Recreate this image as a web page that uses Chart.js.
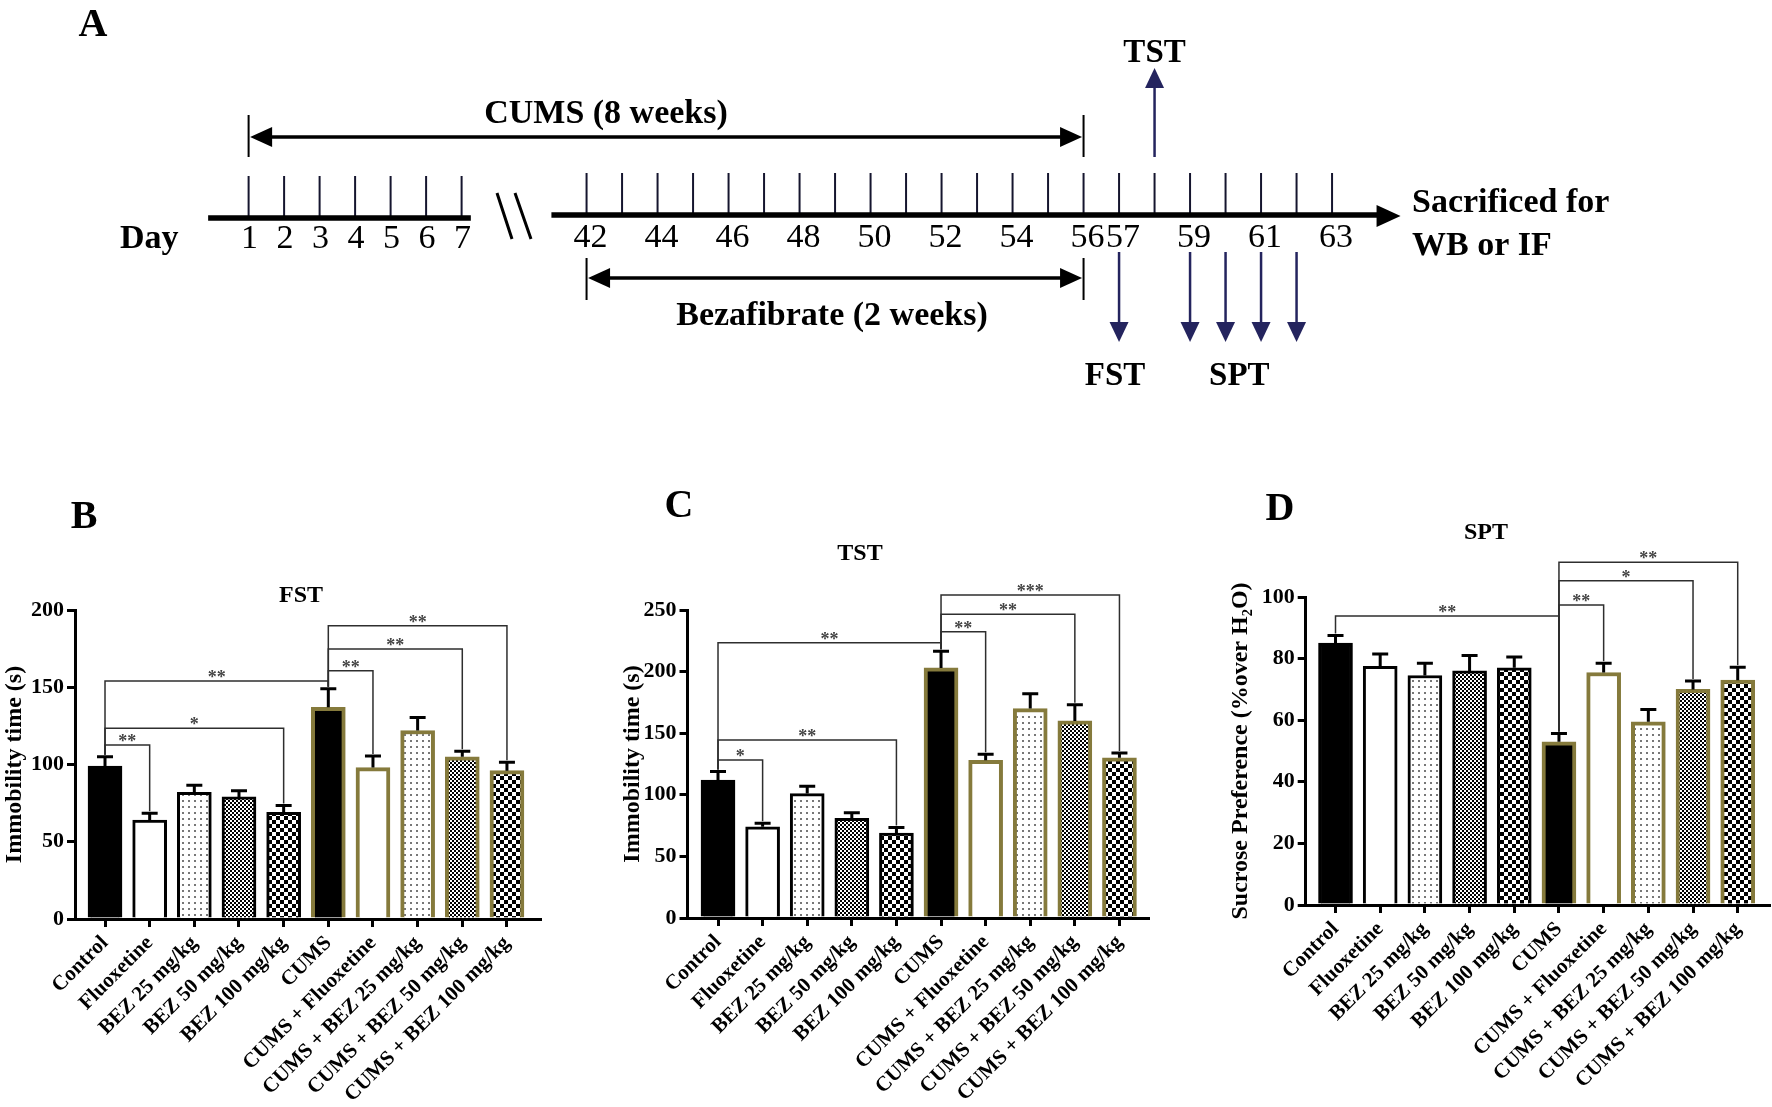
<!DOCTYPE html>
<html>
<head>
<meta charset="utf-8">
<script src="https://cdn.jsdelivr.net/npm/chart.js@4.4.1/dist/chart.umd.min.js"></script>
<style>
html, body { margin: 0; padding: 0; background: #fff; }
#wrap { position: relative; width: 1772px; height: 1107px; overflow: hidden; background: #fff; }
canvas { position: absolute; }
</style>
</head>
<body>
<div id="wrap">
  <canvas id="timeline" width="1772" height="420" style="left:0;top:0"></canvas>
  <canvas id="fst" width="600" height="687" style="left:0;top:420px"></canvas>
  <canvas id="tst" width="600" height="687" style="left:600px;top:420px"></canvas>
  <canvas id="spt" width="572" height="687" style="left:1200px;top:420px"></canvas>
</div>
<script>
// ---- data ----
const groups = ['Control', 'Fluoxetine', 'BEZ 25 mg/kg', 'BEZ 50 mg/kg', 'BEZ 100 mg/kg',
  'CUMS', 'CUMS + Fluoxetine', 'CUMS + BEZ 25 mg/kg', 'CUMS + BEZ 50 mg/kg', 'CUMS + BEZ 100 mg/kg'];

const fstMean = [99, 64, 82, 79, 69, 137, 98, 122, 105, 96];
const fstSem = [6, 4.5, 4.5, 4, 4.5, 12, 7.5, 8.5, 3.5, 5.5];
const tstMean = [112, 74, 101, 81, 69, 203, 128, 170, 160, 130];
const tstSem = [7, 3, 6, 4.5, 4.5, 13.5, 5, 12, 13, 4];
const sptMean = [85, 77.5, 74.5, 76, 77, 53, 75.5, 59.5, 70, 73];
const sptSem = [2.5, 4, 4, 5, 3.5, 2.7, 3, 4, 2.7, 4.2];

// significance brackets: [from bar, to bar, bracket level (axis units), stars]
const fstSig = [[0, 1, 112.6, '**'], [0, 4, 123.4, '*'], [0, 5, 154, '**'],
  [5, 6, 160.7, '**'], [5, 8, 174.8, '**'], [5, 9, 189.8, '**']];
const tstSig = [[0, 1, 128.2, '*'], [0, 4, 144.5, '**'], [0, 5, 223.5, '**'],
  [5, 6, 232.4, '**'], [5, 8, 246.5, '**'], [5, 9, 262.2, '***']];
const sptSig = [[0, 5, 93.8, '**'], [5, 6, 97.4, '**'], [5, 8, 105.3, '*'], [5, 9, 111.3, '**']];

// timeline
const days1 = [1, 2, 3, 4, 5, 6, 7];
const days2 = [42, 43, 44, 45, 46, 47, 48, 49, 50, 51, 52, 53, 54, 55, 56, 57, 58, 59, 60, 61, 62, 63];
const dayLabels2 = [42, 44, 46, 48, 50, 52, 54, 56, 57, 59, 61, 63];
const cumsSpan = [1, 56];
const bezSpan = [42, 56];
const tstDays = [58];
const fstDays = [57];
const sptDays = [59, 60, 61, 62];

const SERIF = '"Liberation Serif", "Times New Roman", serif';
Chart.defaults.font.family = SERIF;
Chart.defaults.color = '#000';

const OLIVE = '#857a3c';
const NAVY = '#24245e';

// day -> position on the broken axis
const BREAK = 9.52;
function pos(d) { return d <= 7 ? d - 1 : d - 42 + BREAK; }

function head(ctx, x, y, ang, len, half) {
  ctx.save();
  ctx.translate(x, y);
  ctx.rotate(ang);
  ctx.beginPath();
  ctx.moveTo(0, 0);
  ctx.lineTo(-len, -half);
  ctx.lineTo(-len, half);
  ctx.closePath();
  ctx.fill();
  ctx.restore();
}

function txt(ctx, s, x, y, font, align, base) {
  ctx.font = font;
  ctx.textAlign = align || 'center';
  ctx.textBaseline = base || 'alphabetic';
  ctx.fillText(s, x, y);
}

// ---- panel A: timeline ----
const timelinePlugin = {
  id: 'timeline',
  afterDatasetsDraw(chart) {
    const { ctx } = chart;
    const xs = chart.scales.x, ys = chart.scales.y;
    const X = d => xs.getPixelForValue(pos(d));
    const Y = v => ys.getPixelForValue(v);
    ctx.save();
    ctx.fillStyle = '#000';
    ctx.strokeStyle = '#000';
    ctx.lineCap = 'butt';

    txt(ctx, 'A', 93, 36, 'bold 40px ' + SERIF);

    // day axis
    ctx.lineWidth = 5.5;
    ctx.beginPath();
    ctx.moveTo(xs.getPixelForValue(pos(1) - 1.14), Y(218));
    ctx.lineTo(xs.getPixelForValue(pos(7) + 0.26), Y(218));
    ctx.moveTo(xs.getPixelForValue(pos(42) - 0.99), Y(215));
    ctx.lineTo(xs.getPixelForValue(pos(63) + 1.35), Y(215));
    ctx.stroke();
    head(ctx, xs.getPixelForValue(pos(63) + 1.93), Y(216), 0, 24, 11);

    // break marks
    ctx.lineWidth = 3;
    ctx.beginPath();
    ctx.moveTo(497, Y(193)); ctx.lineTo(512, Y(239));
    ctx.moveTo(515, Y(193)); ctx.lineTo(531, Y(239));
    ctx.stroke();

    // labels
    txt(ctx, 'Day', 120, Y(248), 'bold 34px ' + SERIF, 'left');
    days1.forEach(d => txt(ctx, String(d), X(d) + 1, Y(248), '34px ' + SERIF));
    dayLabels2.forEach(d => txt(ctx, String(d), X(d) + 4, Y(247), '34px ' + SERIF));

    // CUMS and bezafibrate spans
    function span(a, b, yl, y0, y1) {
      ctx.lineWidth = 2;
      ctx.beginPath();
      ctx.moveTo(X(a), Y(y0)); ctx.lineTo(X(a), Y(y1));
      ctx.moveTo(X(b), Y(y0)); ctx.lineTo(X(b), Y(y1));
      ctx.stroke();
      ctx.lineWidth = 3.5;
      ctx.beginPath();
      ctx.moveTo(X(a) + 15, Y(yl)); ctx.lineTo(X(b) - 15, Y(yl));
      ctx.stroke();
      head(ctx, X(a) + 1.5, Y(yl), Math.PI, 22, 10);
      head(ctx, X(b) - 1.5, Y(yl), 0, 22, 10);
    }
    span(cumsSpan[0], cumsSpan[1], 137, 115, 157);
    span(bezSpan[0], bezSpan[1], 278, 258, 300);
    txt(ctx, 'CUMS (8 weeks)', 606, Y(123), 'bold 34px ' + SERIF);
    txt(ctx, 'Bezafibrate (2 weeks)', 832, Y(325), 'bold 34px ' + SERIF);

    // test arrows
    ctx.strokeStyle = NAVY;
    ctx.fillStyle = NAVY;
    ctx.lineWidth = 2.5;
    tstDays.forEach(d => {
      ctx.beginPath(); ctx.moveTo(X(d), Y(157)); ctx.lineTo(X(d), Y(85)); ctx.stroke();
      head(ctx, X(d), Y(68), -Math.PI / 2, 20, 9.5);
    });
    fstDays.concat(sptDays).forEach(d => {
      ctx.beginPath(); ctx.moveTo(X(d), Y(252)); ctx.lineTo(X(d), Y(325)); ctx.stroke();
      head(ctx, X(d), Y(342), Math.PI / 2, 20, 9.5);
    });

    ctx.fillStyle = '#000';
    txt(ctx, 'TST', X(tstDays[0]), Y(62), 'bold 33px ' + SERIF);
    txt(ctx, 'FST', X(fstDays[0]) - 4, Y(385), 'bold 33px ' + SERIF);
    txt(ctx, 'SPT', (X(sptDays[0]) + X(sptDays[sptDays.length - 1])) / 2 - 4, Y(385), 'bold 33px ' + SERIF);
    txt(ctx, 'Sacrificed for', 1412, Y(212), 'bold 34px ' + SERIF, 'left');
    txt(ctx, 'WB or IF', 1412, Y(255), 'bold 34px ' + SERIF, 'left');
    ctx.restore();
  }
};

const tickSet = (days, yc) => ({
  data: days.map(d => ({ x: pos(d), y: yc })),
  pointStyle: 'line',
  pointRadius: 21,
  pointHoverRadius: 21,
  pointRotation: 90,
  pointBorderColor: '#15152e',
  pointBorderWidth: 2,
  showLine: false
});

new Chart(document.getElementById('timeline'), {
  type: 'scatter',
  data: { datasets: [tickSet(days1, 197), tickSet(days2, 194)] },
  options: {
    responsive: false,
    animation: false,
    devicePixelRatio: 1,
    layout: { padding: 0, autoPadding: false },
    plugins: { legend: { display: false }, tooltip: { enabled: false } },
    scales: {
      x: { type: 'linear', display: false, min: -7.003, max: 42.913 },
      y: { type: 'linear', display: false, min: 0, max: 420, reverse: true }
    }
  },
  plugins: [timelinePlugin]
});

// ---- panels B, C, D: bar charts ----
function tile(size, draw) {
  const c = document.createElement('canvas');
  c.width = c.height = size;
  const g = c.getContext('2d');
  g.fillStyle = '#fff';
  g.fillRect(0, 0, size, size);
  draw(g);
  return g.createPattern(c, 'repeat');
}
const dots = tile(6, g => { g.fillStyle = '#777'; g.fillRect(2, 2, 2, 2); });
const fine = tile(4, g => { g.fillStyle = '#000'; g.fillRect(0, 0, 2, 2); g.fillRect(2, 2, 2, 2); });
const coarse = tile(8, g => { g.fillStyle = '#000'; g.fillRect(0, 0, 4, 4); g.fillRect(4, 4, 4, 4); });

const fills = ['#000', '#fff', dots, fine, coarse, '#000', '#fff', dots, fine, coarse];
const edges = ['#000', '#000', '#000', '#000', '#000', OLIVE, OLIVE, OLIVE, OLIVE, OLIVE];
const edgeW = [3, 3, 3, 3, 3, 4, 4, 4, 4, 4];

function panel(id, means, sems, sig, c) {
  const extras = {
    id: 'extras',
    afterDatasetsDraw(chart) {
      const { ctx } = chart;
      const xs = chart.scales.x, ys = chart.scales.y;
      const top = i => ys.getPixelForValue(means[i] + sems[i]);
      ctx.save();
      // error bars
      ctx.strokeStyle = '#000';
      ctx.lineWidth = 3;
      means.forEach((m, i) => {
        const x = xs.getPixelForValue(i);
        ctx.beginPath();
        ctx.moveTo(x, ys.getPixelForValue(m));
        ctx.lineTo(x, top(i));
        ctx.moveTo(x - 8, top(i));
        ctx.lineTo(x + 8, top(i));
        ctx.stroke();
      });
      // brackets
      ctx.strokeStyle = '#2e2e2e';
      ctx.fillStyle = '#444';
      ctx.lineWidth = 1.5;
      sig.forEach(([a, b, lv, s]) => {
        const xa = xs.getPixelForValue(a), xb = xs.getPixelForValue(b);
        const yl = ys.getPixelForValue(lv);
        ctx.beginPath();
        ctx.moveTo(xa, top(a) - 2);
        ctx.lineTo(xa, yl);
        ctx.lineTo(xb, yl);
        ctx.lineTo(xb, top(b) - 2);
        ctx.stroke();
        txt(ctx, s, (xa + xb) / 2, yl + 2, 'bold 18px ' + SERIF);
      });
      ctx.fillStyle = '#000';
      txt(ctx, c.letter, c.lx, c.ly, 'bold 40px ' + SERIF, 'center', 'middle');
      txt(ctx, c.title, c.tx, c.ty, 'bold 24px ' + SERIF, 'center', 'middle');
      ctx.restore();
    }
  };

  new Chart(document.getElementById(id), {
    type: 'bar',
    data: {
      datasets: [{
        data: means.map((v, i) => ({ x: i, y: v })),
        backgroundColor: fills,
        borderColor: edges,
        borderWidth: edgeW,
        borderSkipped: 'start',
        barThickness: 34
      }]
    },
    options: {
      responsive: false,
      animation: false,
      devicePixelRatio: 1,
      layout: { padding: c.pad, autoPadding: false },
      plugins: { legend: { display: false }, tooltip: { enabled: false } },
      scales: {
        x: {
          type: 'linear',
          offset: false,
          min: c.xMin,
          max: c.xMax,
          afterBuildTicks: s => { s.ticks = groups.map((g, i) => ({ value: i })); },
          afterFit: s => { s.height = c.xH; },
          ticks: {
            autoSkip: false,
            minRotation: 45, maxRotation: 45, padding: 4,
            color: '#000', font: { size: 21, weight: 'bold' },
            callback: v => groups[v]
          },
          grid: { offset: false, drawOnChartArea: false, color: '#000', lineWidth: 3, tickLength: 8 },
          border: { color: '#000', width: 3 }
        },
        y: {
          min: 0,
          max: c.yMax,
          afterFit: s => { s.width = c.yW; },
          ticks: { stepSize: c.step, padding: 3, color: '#000', font: { size: 22, weight: 'bold' } },
          grid: { drawOnChartArea: false, color: '#000', lineWidth: 3, tickLength: 8 },
          border: { color: '#000', width: 3 },
          title: { display: true, text: c.yTitle, color: '#000', padding: 0, font: { size: 24, weight: 'bold' } }
        }
      }
    },
    plugins: [extras]
  });
}

panel('fst', fstMean, fstSem, fstSig, {
  letter: 'B', lx: 84, ly: 98, title: 'FST', tx: 301, ty: 176,
  pad: { left: 0, right: 60, top: 190, bottom: 0 }, yW: 75, xH: 188,
  xMin: -0.672, xMax: 9.74, yMax: 200, step: 50, yTitle: 'Immobility time (s)'
});
panel('tst', tstMean, tstSem, tstSig, {
  letter: 'C', lx: 79, ly: 87, title: 'TST', tx: 260, ty: 134,
  pad: { left: 18, right: 52, top: 190, bottom: 0 }, yW: 69.5, xH: 189,
  xMin: -0.684, xMax: 9.64, yMax: 250, step: 50, yTitle: 'Immobility time (s)'
});
panel('spt', sptMean, sptSem, sptSig, {
  letter: 'D', lx: 80, ly: 90, title: 'SPT', tx: 286, ty: 113,
  pad: { left: 26, right: 3, top: 177, bottom: 0 }, yW: 79.7, xH: 202,
  xMin: -0.667, xMax: 9.70, yMax: 100, step: 20, yTitle: 'Sucrose Preference (%over H\u2082O)'
});
</script>
</body>
</html>
